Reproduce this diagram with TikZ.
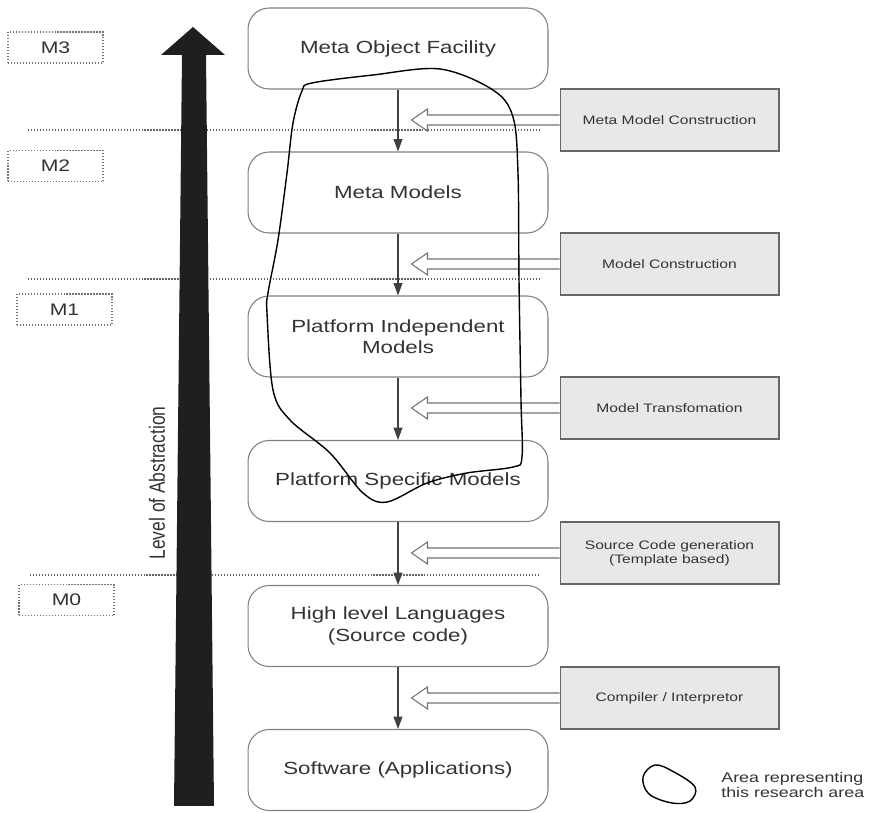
\documentclass[tikz,border=0pt]{standalone}
\usepackage{fontspec}
\setmainfont[FakeStretch=1.27]{Liberation Sans}
\newfontfamily\narrowfont{Liberation Sans}
\usetikzlibrary{arrows.meta,calc}

\begin{document}
\begin{tikzpicture}[x=0.02cm,y=-0.02cm,
  layerbox/.style={draw=black!50, line width=0.6pt, rounded corners=12pt,
    minimum width=6cm, minimum height=1.62cm, align=center, text=black!80,
    font=\fontsize{10}{12.2}\selectfont},
  actbox/.style={draw=black!60, line width=0.6pt, fill=black!9,
    minimum width=4.38cm, minimum height=1.24cm, align=center, text=black!80,
    font=\fontsize{7}{8}\selectfont},
  levelbox/.style={draw=black!55, densely dotted, line width=0.7pt,
    minimum width=1.9cm, minimum height=0.62cm, text=black!80,
    font=\fontsize{9.5}{11}\selectfont},
  divider/.style={draw=black!60, densely dotted, line width=0.7pt},
  flow/.style={draw=black!75, line width=0.6pt,
    -{Triangle[length=7pt,width=5pt]}},
  hollow/.style={draw=black!55, line width=0.6pt, fill=white},
  region/.style={draw=black, line width=0.8pt}]

\useasboundingbox (0,0) rectangle (876,813);

% level separators
\draw[divider] (28,130) -- (540,130);
\draw[divider] (28,279) -- (540,279);
\draw[divider] (30,575) -- (540,575);

% abstraction arrow
\fill[black!88] (193,27) -- (225,55) -- (206,55) -- (214,806) -- (174,806)
  -- (182,55) -- (161,55) -- cycle;
\node[rotate=90, text=black!80] (abs) at (157,483)
  {\scalebox{1}[1.27]{\narrowfont\fontsize{9.9}{12}\selectfont Level of Abstraction}};

% level labels
\node[levelbox] (m3) at (55.5,47.5) {M3};
\node[levelbox] (m2) at (55.5,166) {M2};
\node[levelbox] (m1) at (64.5,309.5) {M1};
\node[levelbox] (m0) at (66.5,600) {M0};

% model layers
\node[layerbox] (mof) at (398,48.5) {Meta Object Facility};
\node[layerbox] (mm)  at (398,192.5) {Meta Models};
\node[layerbox] (pim) at (398,336.5) {Platform Independent\\Models};
\node[layerbox] (psm) at (398,481) {Platform Specific Models};
\node[layerbox] (hll) at (398,626) {High level Languages\\(Source code)};
\node[layerbox] (sw)  at (398,770) {Software (Applications)};

\draw[flow] (mof) -- (mm);
\draw[flow] (mm) -- (pim);
\draw[flow] (pim) -- (psm);
\draw[flow] (psm) -- (hll);
\draw[flow] (hll) -- (sw);

% activities
\node[actbox] (g1) at (669.5,120) {Meta Model Construction};
\node[actbox] (g2) at (669.5,264) {Model Construction};
\node[actbox] (g3) at (669.5,408) {Model Transfomation};
\node[actbox] (g4) at (669.5,553) {Source Code generation\\(Template based)};
\node[actbox] (g5) at (669.5,698) {Compiler / Interpretor};

\foreach \g in {g1,g2,g3,g4,g5}{
  \draw[hollow] ($(\g.west)+(0,-5)$) -- ++(-132,0) -- ++(0,-6) -- ++(-16,11)
    -- ++(16,11) -- ++(0,-6) -- ($(\g.west)+(0,5)$);
}

% research area outline
\draw[region] plot[smooth cycle, tension=0.55] coordinates {
  (312,83) (373,75) (440,69) (493,90) (513,117) (518,173) (519,280)
  (521,400) (522,457) (513,467) (467,473) (427,483) (387,502) (363,493)
  (330,453) (290,420) (273,390) (267,313) (268,293) (278,240) (287,173)
  (293,123) (302,91)};

% legend
\draw[region] plot[smooth cycle, tension=0.6] coordinates {
  (655,765) (674,772) (695,787) (690,801) (672,803) (649,794) (643,777)};
\node[anchor=west, align=left, text=black!80, inner sep=0pt,
  font=\fontsize{8}{8.6}\selectfont] (legend) at (721,785)
  {Area representing\\this research area};

\end{tikzpicture}
\end{document}
